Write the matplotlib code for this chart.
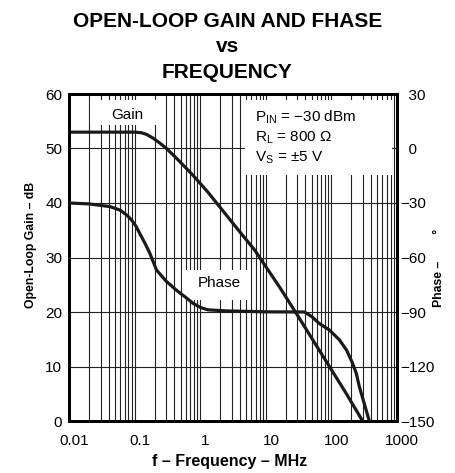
import matplotlib.pyplot as plt
from matplotlib.patches import Rectangle
from matplotlib.ticker import FixedLocator, LogLocator, NullFormatter
from matplotlib.transforms import ScaledTranslation

plt.rcParams["font.family"] = ["Liberation Sans", "DejaVu Sans"]
plt.rcParams["mathtext.fontset"] = "custom"
plt.rcParams["mathtext.rm"] = "Liberation Sans"

# open-loop gain (dB) vs frequency (MHz)
gain_freq = [0.01, 0.1, 0.125, 0.15, 0.19, 0.24, 0.304, 0.45, 0.77, 1.3, 1.97, 4.0, 6.7,
             16.1, 28.9, 51.8, 93, 167, 299]
gain_db = [53, 53, 52.9, 52.6, 51.9, 51.0, 50, 48.0, 45.1, 42.0, 39.3, 34.7, 31.4,
           24.6, 19.8, 14.9, 10, 5.1, 0]

# phase (degrees) vs frequency (MHz)
phase_freq = [0.01, 0.02, 0.042, 0.06, 0.075, 0.09, 0.105, 0.119, 0.142, 0.169, 0.214,
              0.3, 0.43, 0.6, 0.77, 1.0, 1.3, 2.5, 10, 38.8, 50, 65, 93, 132, 170,
              210, 240, 266, 320, 378]
phase_deg = [-30, -30.5, -32, -34, -36.6, -39.5, -43, -46.8, -52, -57.6, -66.9,
             -73, -78, -82, -85.2, -87.5, -88.8, -89.4, -89.9, -90, -92.5, -96.3,
             -99.9, -105.3, -111, -118.2, -124, -131, -141, -150]

x_ticks = [0.01, 0.1, 1, 10, 100, 1000]
x_labels = ["0.01", "0.1", "1", "10", "100", "1000"]
gain_ticks = [0, 10, 20, 30, 40, 50, 60]
phase_ticks = [-150, -120, -90, -60, -30, 0, 30]
phase_labels = ["\u2212150", "\u2212120", "\u221290", "\u221260", "\u221230",
                "\u20070", "\u200730"]

W, H = 455, 473
fig = plt.figure(figsize=(W / 100, H / 100), dpi=100)
ax = fig.add_axes([69.3 / W, 1 - 421 / H, (397 - 69.3) / W, (421 - 94) / H])

ax.set_xscale("log")
ax.set_xlim(0.01, 1000)
ax.set_ylim(0, 60)
ax.xaxis.set_major_locator(FixedLocator(x_ticks))
ax.set_xticklabels(x_labels)
ax.xaxis.set_minor_locator(LogLocator(base=10, subs=range(2, 10), numticks=20))
ax.xaxis.set_minor_formatter(NullFormatter())
ax.set_yticks(gain_ticks)
ax.grid(which="both", axis="x", color="#222222", linewidth=0.8)
ax.grid(which="major", axis="y", color="#222222", linewidth=0.8)
ax.tick_params(which="both", length=0, labelsize=11)
ax.tick_params(axis="x", pad=9)
ax.tick_params(axis="y", pad=5)
for s in ax.spines.values():
    s.set_linewidth(2)
# tick labels in the original sit slightly right of their grid lines
shift = ScaledTranslation(5 / 100, 0, fig.dpi_scale_trans)
for lbl in ax.get_xticklabels():
    lbl.set_transform(lbl.get_transform() + shift)

ax.plot(gain_freq, gain_db, color="#1a1a1a", linewidth=2.3, zorder=5)

# white label boxes hiding the grid
boxes = [
    (0.0206, 0.286, 54.3, 58.9),
    (4.75, 850, 45.1, 58.9),
    (0.52, 5.25, 22.2, 27.7),
]
for x0, x1, y0, y1 in boxes:
    ax.add_patch(Rectangle((x0, y0), x1 - x0, y1 - y0, facecolor="white",
                           edgecolor="none", zorder=3))

ax.text(0.076, 56.1, "Gain", fontsize=11, ha="center", va="center", zorder=4)
ax.text(1.97, 25.3, "Phase", fontsize=11, ha="center", va="center", zorder=4)
ax.text(6.7, 55.8, r"P$_{\mathregular{IN}}$" + " = \u221230 dBm", fontsize=11,
        va="center", zorder=4)
ax.text(6.7, 51.9, r"R$_{\mathregular{L}}$" + " = 800 \u03a9", fontsize=11,
        va="center", zorder=4)
ax.text(6.7, 48.3, r"V$_{\mathregular{S}}$" + " = \u00b15 V", fontsize=11,
        va="center", zorder=4)

ax2 = ax.twinx()
ax2.set_ylim(-150, 30)
ax2.set_yticks(phase_ticks)
ax2.set_yticklabels(phase_labels)
ax2.tick_params(length=0, labelsize=11, pad=2)
for s in ax2.spines.values():
    s.set_linewidth(2)
ax2.plot(phase_freq, phase_deg, color="#1a1a1a", linewidth=2.3, zorder=5)

ax.set_xlabel("f \u2013 Frequency \u2013 MHz", fontsize=11.5, fontweight="bold")
ax.xaxis.set_label_coords(0.49, -0.10)
ax.set_ylabel("Open-Loop Gain \u2013 dB", fontsize=8.8, fontweight="bold")
ax.yaxis.set_label_coords(-0.099, 0.538)
ax2.set_ylabel("Phase \u2013        \u00b0", fontsize=8.8, fontweight="bold")
ax2.yaxis.set_label_coords(1.11, 0.468)

fig.text(0.5, 1 - 21 / H, "OPEN-LOOP GAIN AND FHASE", ha="center", va="center",
         fontsize=15, fontweight="bold")
fig.text(0.5, 1 - 47 / H, "vs", ha="center", va="center", fontsize=15, fontweight="bold")
fig.text(0.5, 1 - 73 / H, "FREQUENCY", ha="center", va="center", fontsize=15, fontweight="bold")

fig.savefig("out.png", dpi=100)
